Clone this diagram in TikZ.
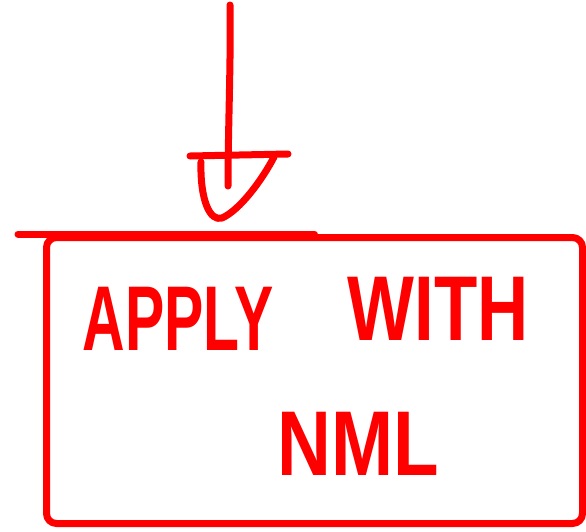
\documentclass[tikz,border=0pt]{standalone}
\usepackage{fontspec}
\setmainfont{Liberation Sans}
\definecolor{pen}{RGB}{255,0,0}
\tikzset{
  ink/.style={draw=pen, line width=7pt, line cap=round, line join=round},
  label/.style={text=pen, font=\fontsize{92}{92}\selectfont\bfseries, anchor=base, inner sep=0pt},
}
\begin{document}
\begin{tikzpicture}[x=1pt,y=-1pt]
\useasboundingbox (0,0) rectangle (586,531);
% box
\node (box) [ink, rectangle, rounded corners=10pt, minimum width=536pt, minimum height=286pt, anchor=north west] at (43,234) {};
\draw[ink] (18,234) -- (box.north);
% labels
\node (t1) [label] at (178,350) {\scalebox{0.64}[1]{APPLY}};
\node (t2) [label] at (438,340) {\scalebox{0.77}[1]{WITH}};
\node (t3) [label] at (358,475) {\scalebox{0.81}[1]{NML}};
% arrow
\coordinate (start) at (230,5);
\coordinate (tip) at (228,186);
\draw[ink] (start) .. controls (231,60) and (228,130) .. (tip);
\draw[ink] (190,156) -- (288,154);
\draw[ink] (201,162) .. controls (200,200) and (210,222) .. (222,218) .. controls (240,210) and (262,180) .. (274,157);
\end{tikzpicture}
\end{document}
